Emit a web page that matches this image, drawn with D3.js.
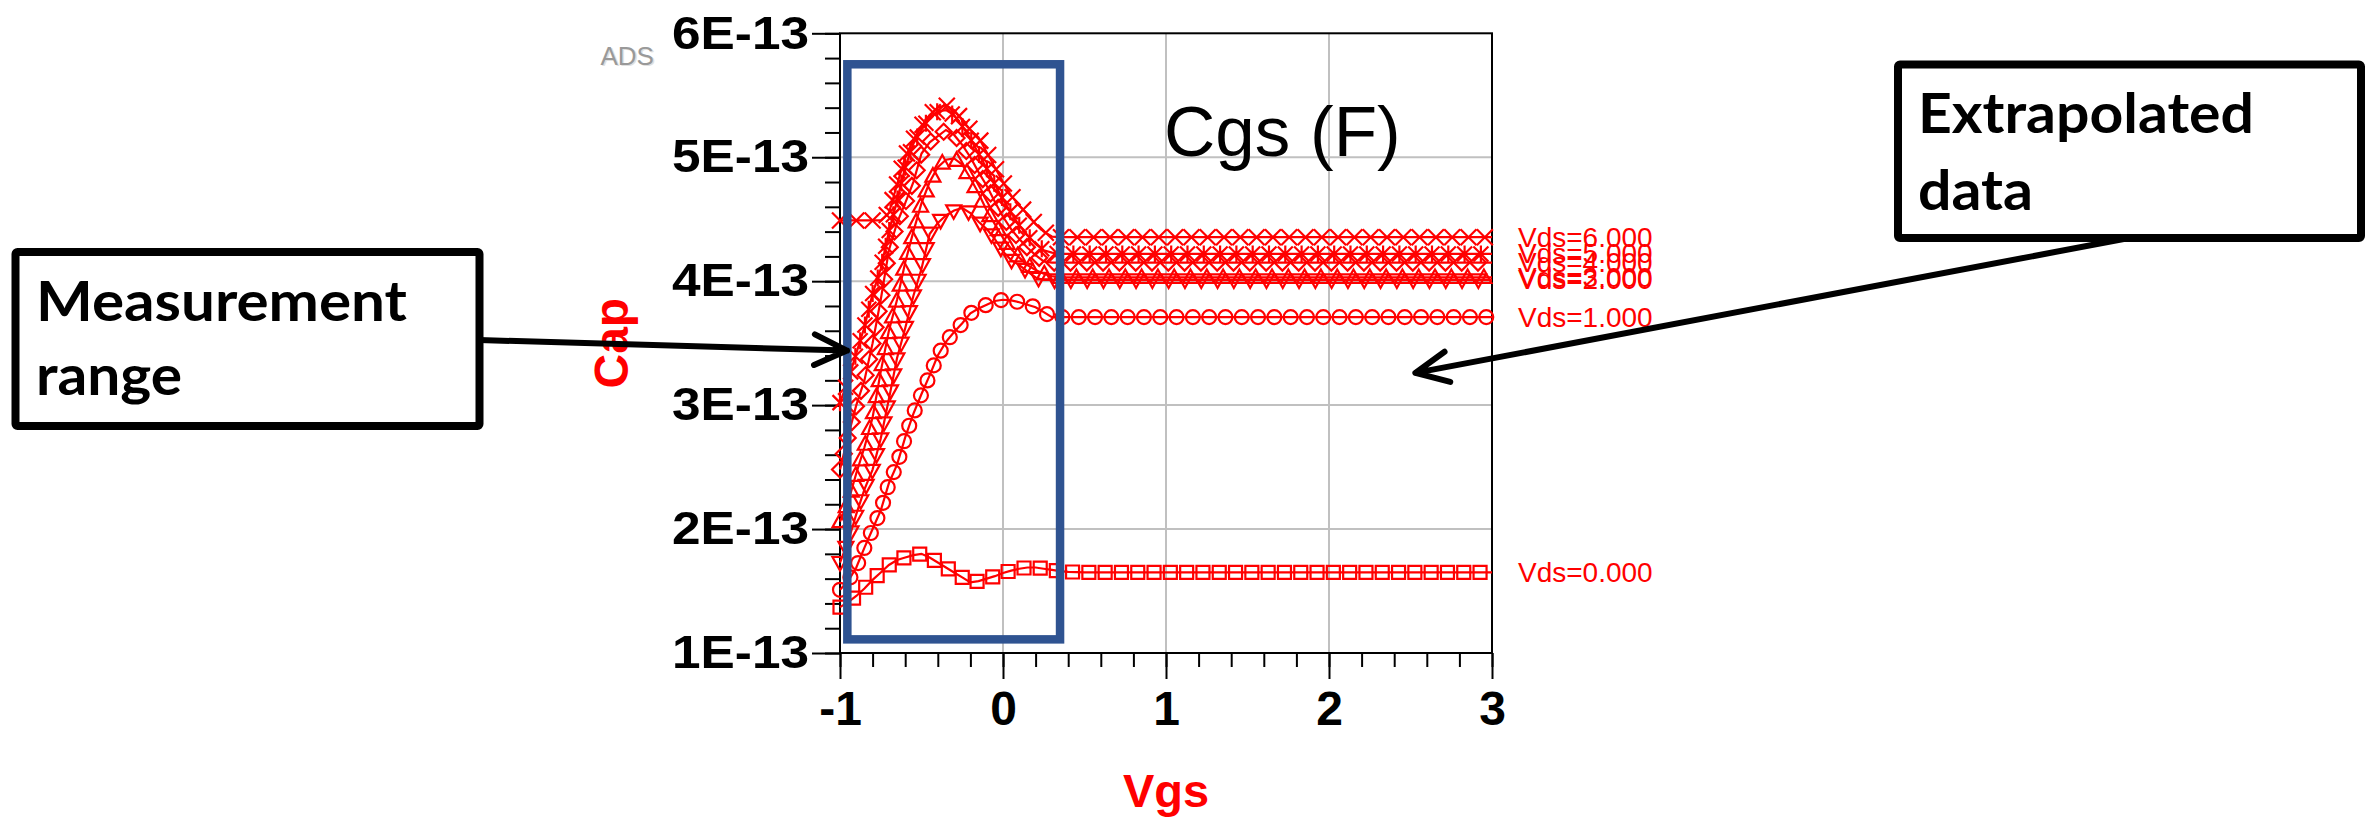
<!DOCTYPE html>
<html>
<head>
<meta charset="utf-8">
<script src="https://cdn.jsdelivr.net/npm/d3@7"></script>
<style>
  body { margin: 0; background: #fff; }
  svg { display: block; }
</style>
</head>
<body>
<div id="plot"></div>
<script>
// Vgs sweep (V)
const vgs = [-1.0, -0.95, -0.9, -0.85, -0.8, -0.75, -0.7, -0.65, -0.6, -0.55, -0.5, -0.45, -0.4, -0.35, -0.3,
  -0.25, -0.2, -0.15, -0.1, -0.05, 0, 0.05, 0.1, 0.15, 0.2, 0.25, 0.3, 0.35, 0.4,
  0.5, 0.6, 0.7, 0.8, 0.9, 1.0, 1.1, 1.2, 1.3, 1.4, 1.5, 1.6, 1.7, 1.8, 1.9, 2.0,
  2.1, 2.2, 2.3, 2.4, 2.5, 2.6, 2.7, 2.8, 2.9, 3.0];

// Cgs per Vds, in units of 1E-13 F
const capVds0 = [1.37, 1.41, 1.46, 1.52, 1.59, 1.65, 1.71, 1.75, 1.77, 1.79, 1.80, 1.77, 1.73, 1.69, 1.65,
  1.61, 1.57, 1.58, 1.60, 1.62, 1.645, 1.665, 1.68, 1.69, 1.69, 1.68, 1.67, 1.66, 1.655,
  1.65, 1.65, 1.65, 1.65, 1.65, 1.65, 1.65, 1.65, 1.65, 1.65, 1.65, 1.65, 1.65, 1.65, 1.65, 1.65,
  1.65, 1.65, 1.65, 1.65, 1.65, 1.65, 1.65, 1.65, 1.65, 1.65];
const capVds1 = [1.51, 1.58, 1.69, 1.85, 2.00, 2.15, 2.37, 2.52, 2.74, 2.93, 3.09, 3.24, 3.40, 3.51, 3.59,
  3.66, 3.74, 3.78, 3.81, 3.84, 3.85, 3.845, 3.83, 3.81, 3.79, 3.75, 3.71, 3.71, 3.71,
  3.71, 3.71, 3.71, 3.71, 3.71, 3.71, 3.71, 3.71, 3.71, 3.71, 3.71, 3.71, 3.71, 3.71, 3.71, 3.71,
  3.71, 3.71, 3.71, 3.71, 3.71, 3.71, 3.71, 3.71, 3.71, 3.71];
const capVds2 = [1.73, 1.90, 2.12, 2.32, 2.48, 2.73, 3.05, 3.38, 3.62, 3.88, 4.10, 4.38, 4.47, 4.53, 4.57,
  4.59, 4.55, 4.48, 4.42, 4.34, 4.24, 4.17, 4.13, 4.08, 4.03, 4.01, 4.01, 4.01, 4.01,
  4.01, 4.01, 4.01, 4.01, 4.01, 4.01, 4.01, 4.01, 4.01, 4.01, 4.01, 4.01, 4.01, 4.01, 4.01, 4.01,
  4.01, 4.01, 4.01, 4.01, 4.01, 4.01, 4.01, 4.01, 4.01, 4.01];
const capVds3 = [2.06, 2.22, 2.45, 2.66, 2.90, 3.27, 3.60, 3.85, 4.15, 4.40, 4.63, 4.80, 4.92, 4.98, 4.99,
  4.94, 4.83, 4.71, 4.57, 4.46, 4.35, 4.26, 4.19, 4.13, 4.09, 4.06, 4.04, 4.03, 4.03,
  4.03, 4.03, 4.03, 4.03, 4.03, 4.03, 4.03, 4.03, 4.03, 4.03, 4.03, 4.03, 4.03, 4.03, 4.03, 4.03,
  4.03, 4.03, 4.03, 4.03, 4.03, 4.03, 4.03, 4.03, 4.03, 4.03];
const capVds4 = [2.48, 2.75, 3.00, 3.20, 3.50, 3.85, 4.25, 4.47, 4.63, 4.80, 5.03, 5.12, 5.17, 5.22, 5.18,
  5.10, 5.00, 4.88, 4.77, 4.64, 4.52, 4.42, 4.34, 4.27, 4.21, 4.16, 4.15, 4.15, 4.15,
  4.15, 4.15, 4.15, 4.15, 4.15, 4.15, 4.15, 4.15, 4.15, 4.15, 4.15, 4.15, 4.15, 4.15, 4.15, 4.15,
  4.15, 4.15, 4.15, 4.15, 4.15, 4.15, 4.15, 4.15, 4.15, 4.15];
const capVds5 = [3.02, 3.20, 3.42, 3.63, 3.90, 4.10, 4.40, 4.65, 4.92, 5.11, 5.22, 5.32, 5.37, 5.38, 5.34,
  5.25, 5.15, 5.03, 4.91, 4.78, 4.66, 4.55, 4.45, 4.37, 4.30, 4.25, 4.23, 4.22, 4.22,
  4.22, 4.22, 4.22, 4.22, 4.22, 4.22, 4.22, 4.22, 4.22, 4.22, 4.22, 4.22, 4.22, 4.22, 4.22, 4.22,
  4.22, 4.22, 4.22, 4.22, 4.22, 4.22, 4.22, 4.22, 4.22, 4.22];
const capVds6 = [4.49, 4.49, 4.49, 4.49, 4.49, 4.49, 4.55, 4.78, 5.00, 5.14, 5.25, 5.34, 5.40, 5.42, 5.38,
  5.30, 5.22, 5.16, 5.04, 4.92, 4.80, 4.69, 4.61, 4.54, 4.46, 4.40, 4.36, 4.355, 4.355,
  4.355, 4.355, 4.355, 4.355, 4.355, 4.355, 4.355, 4.355, 4.355, 4.355, 4.355, 4.355, 4.355, 4.355, 4.355, 4.355,
  4.355, 4.355, 4.355, 4.355, 4.355, 4.355, 4.355, 4.355, 4.355, 4.355];

const vdsValues = [0, 1, 2, 3, 4, 5, 6];
const capSeries = [capVds0, capVds1, capVds2, capVds3, capVds4, capVds5, capVds6];
const symbolNames = ["square", "circle", "triangleDown", "triangleUp", "diamond", "asterisk", "cross"];

const xTicks = [-1, 0, 1, 2, 3];
const yTicks = [1, 2, 3, 4, 5, 6];

// measurement window (Vgs, Cap) and arrow targets
const measureVgs = [-0.955, 0.35];
const measureCap = [1.11, 5.75];
const measureArrowTip = [-0.957, 3.44];
const extrapArrowTip = [2.53, 3.26];

const width = 2377, height = 819;
const arial = "'Liberation Sans', Arial, sans-serif";
const red = "#ff0000";

const svg = d3.select("#plot")
    .append("svg")
    .attr("width", width)
    .attr("height", height);

const x = d3.scaleLinear().domain([-1, 3]).range([840, 1492]);
const y = d3.scaleLinear().domain([1, 6]).range([653, 33.3]);

// grid lines
svg.append("g").selectAll("line")
    .data(xTicks.slice(1, -1))
    .join("line")
    .attr("x1", d => x(d)).attr("x2", d => x(d))
    .attr("y1", y(1)).attr("y2", y(6))
    .attr("stroke", "#c0c0c0").attr("stroke-width", 2);
svg.append("g").selectAll("line")
    .data(yTicks.slice(1, -1))
    .join("line")
    .attr("x1", x(-1)).attr("x2", x(3))
    .attr("y1", d => y(d)).attr("y2", d => y(d))
    .attr("stroke", "#c0c0c0").attr("stroke-width", 2);

function styleAxis(g) {
    g.select(".domain").remove();
    g.selectAll("line").attr("stroke", "#000").attr("stroke-width", 2);
}

// y axis: minor then major ticks
svg.append("g")
    .attr("transform", `translate(${x(-1)},0)`)
    .call(d3.axisLeft(y).tickValues(y.ticks(25)).tickSize(15).tickFormat(""))
    .call(styleAxis);
const yAxis = svg.append("g")
    .attr("transform", `translate(${x(-1)},0)`)
    .call(d3.axisLeft(y).tickValues(yTicks).tickSize(28).tickPadding(3).tickFormat(d => d + "E-13"))
    .call(styleAxis);
yAxis.selectAll("text")
    .attr("fill", "#000")
    .style("font-family", arial)
    .style("font-size", "46px")
    .style("font-weight", "bold")
    .attr("textLength", 137)
    .attr("lengthAdjust", "spacingAndGlyphs");

// x axis: minor then major ticks
svg.append("g")
    .attr("transform", `translate(0,${y(1)})`)
    .call(d3.axisBottom(x).tickValues(x.ticks(20)).tickSize(14).tickFormat(""))
    .call(styleAxis);
const xAxis = svg.append("g")
    .attr("transform", `translate(0,${y(1)})`)
    .call(d3.axisBottom(x).tickValues(xTicks).tickSize(26).tickPadding(12).tickFormat(d => String(d)))
    .call(styleAxis);
xAxis.selectAll("text")
    .attr("fill", "#000")
    .style("font-family", arial)
    .style("font-size", "48px")
    .style("font-weight", "bold");

// plot frame
svg.append("rect")
    .attr("x", x(-1)).attr("y", y(6))
    .attr("width", x(3) - x(-1)).attr("height", y(1) - y(6))
    .attr("fill", "none").attr("stroke", "#000").attr("stroke-width", 2);

// symbol shapes (centered on 0,0)
const symbolPath = {
    square: "M-6.5,-6.5H6.5V6.5H-6.5Z",
    circle: "M-7,0A7,7 0 1,0 7,0A7,7 0 1,0 -7,0Z",
    triangleUp: "M0,-8L7.5,5.5L-7.5,5.5Z",
    triangleDown: "M0,8L7.5,-5.5L-7.5,-5.5Z",
    diamond: "M0,-8L8,0L0,8L-8,0Z",
    asterisk: "M-7.5,-7.5L7.5,7.5M-7.5,7.5L7.5,-7.5M0,-8.5V8.5",
    cross: "M-8,-8L8,8M-8,8L8,-8"
};

const line = d3.line()
    .x((d, i) => x(vgs[i]))
    .y(d => y(d));

const markerStep = 16.3;  // ADS draws symbols at a fixed spacing along the trace

capSeries.forEach((values, k) => {
    const g = svg.append("g");
    const path = g.append("path")
        .datum(values)
        .attr("d", line)
        .attr("fill", "none")
        .attr("stroke", red)
        .attr("stroke-width", 2.2);
    const node = path.node();
    const total = node.getTotalLength();
    const pts = [];
    for (let l = 0; l <= total + 0.5; l += markerStep) {
        const p = node.getPointAtLength(Math.min(l, total));
        pts.push([p.x, p.y]);
    }
    g.selectAll(".sym")
        .data(pts)
        .join("path")
        .attr("class", "sym")
        .attr("transform", d => `translate(${d[0]},${d[1]})`)
        .attr("d", symbolPath[symbolNames[k]])
        .attr("fill", "none")
        .attr("stroke", red)
        .attr("stroke-width", 2.2);

    // trace label at the right end
    svg.append("text")
        .attr("x", x(3) + 26)
        .attr("y", y(values[values.length - 1]))
        .attr("dominant-baseline", "central")
        .attr("fill", red)
        .style("font-family", arial)
        .style("font-size", "28px")
        .text("Vds=" + d3.format(".3f")(vdsValues[k]));
});

// axis titles
svg.append("text")
    .attr("x", (x(-1) + x(3)) / 2)
    .attr("y", 807)
    .attr("text-anchor", "middle")
    .attr("fill", red)
    .style("font-family", arial)
    .style("font-size", "47px")
    .style("font-weight", "bold")
    .text("Vgs");
svg.append("text")
    .attr("transform", `translate(628,${(y(1) + y(6)) / 2}) rotate(-90)`)
    .attr("text-anchor", "middle")
    .attr("fill", red)
    .style("font-family", arial)
    .style("font-size", "48px")
    .style("font-weight", "bold")
    .text("Cap");

// plot title
svg.append("text")
    .attr("x", 1164).attr("y", 156)
    .attr("fill", "#000")
    .style("font-family", arial)
    .style("font-size", "71px")
    .text("Cgs (F)");

// ADS logo text
svg.append("text")
    .attr("x", 602).attr("y", 66)
    .attr("fill", "#e0e0e0")
    .style("font-family", arial)
    .style("font-size", "26px")
    .text("ADS");
svg.append("text")
    .attr("x", 600.5).attr("y", 64.5)
    .attr("fill", "#999")
    .style("font-family", arial)
    .style("font-size", "26px")
    .text("ADS");

// measurement window
svg.append("rect")
    .attr("x", x(measureVgs[0])).attr("y", y(measureCap[1]))
    .attr("width", x(measureVgs[1]) - x(measureVgs[0]))
    .attr("height", y(measureCap[0]) - y(measureCap[1]))
    .attr("fill", "none")
    .attr("stroke", "#2f5391")
    .attr("stroke-width", 8.5);

// callout boxes and arrows
function arrow(x1, y1, x2, y2) {
    const a = Math.atan2(y2 - y1, x2 - x1), L = 36, w = 0.44;
    const d = `M${x1},${y1}L${x2},${y2}` +
        `M${x2 - L * Math.cos(a - w)},${y2 - L * Math.sin(a - w)}L${x2},${y2}` +
        `L${x2 - L * Math.cos(a + w)},${y2 - L * Math.sin(a + w)}`;
    svg.append("path")
        .attr("d", d)
        .attr("fill", "none")
        .attr("stroke", "#000")
        .attr("stroke-width", 6)
        .attr("stroke-linecap", "round")
        .attr("stroke-linejoin", "round");
}

function callout(bx, by, bw, bh, lines) {
    svg.append("rect")
        .attr("x", bx).attr("y", by)
        .attr("width", bw).attr("height", bh)
        .attr("rx", 2)
        .attr("fill", "#fff")
        .attr("stroke", "#000")
        .attr("stroke-width", 8)
        .attr("stroke-linejoin", "round");
    lines.forEach(l => {
        svg.append("text")
            .attr("x", l.x).attr("y", l.y)
            .attr("fill", "#000")
            .style("font-family", "Lato, 'Open Sans', sans-serif")
            .style("font-size", "56px")
            .style("font-weight", "bold")
            .attr("textLength", l.len)
            .attr("lengthAdjust", "spacingAndGlyphs")
            .text(l.t);
    });
}

arrow(479, 340, x(measureArrowTip[0]), y(measureArrowTip[1]));
callout(15.5, 252, 464, 174, [
    { t: "Measurement", x: 36, y: 321, len: 371 },
    { t: "range", x: 36, y: 395, len: 146 }
]);

arrow(2129, 238, x(extrapArrowTip[0]), y(extrapArrowTip[1]));
callout(1898, 64.5, 463, 173.5, [
    { t: "Extrapolated", x: 1918, y: 133, len: 336 },
    { t: "data", x: 1918, y: 210, len: 115 }
]);
</script>
</body>
</html>
